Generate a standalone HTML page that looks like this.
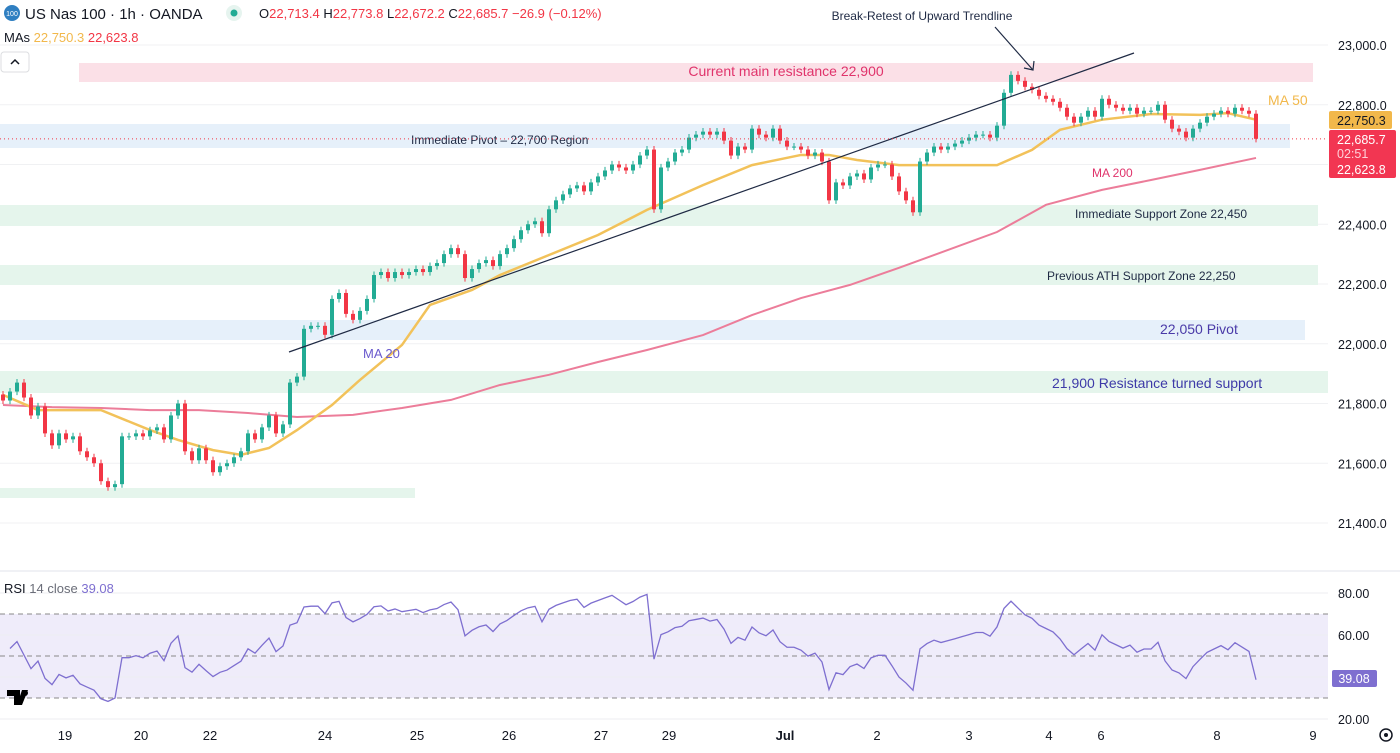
<!DOCTYPE html>
<html><head><meta charset="utf-8"><style>
body{margin:0;background:#fff;font-family:"Liberation Sans",sans-serif;}
svg text{font-family:"Liberation Sans",sans-serif;}
</style></head><body>
<svg id="c" width="1400" height="748" xmlns="http://www.w3.org/2000/svg"></svg>
<script>
const closes=[21810,21840,21870,21820,21760,21790,21700,21660,21700,21680,21690,21640,21620,21600,21540,21520,21530,21690,21690,21700,21690,21710,21720,21680,21760,21800,21640,21610,21650,21610,21570,21590,21600,21620,21640,21700,21680,21720,21760,21700,21730,21870,21890,22050,22060,22060,22030,22150,22170,22100,22080,22110,22150,22230,22240,22220,22240,22230,22240,22250,22240,22260,22270,22300,22320,22300,22220,22250,22270,22280,22260,22300,22320,22350,22380,22400,22410,22370,22450,22480,22500,22520,22530,22510,22540,22560,22580,22600,22590,22580,22600,22630,22650,22450,22590,22610,22640,22650,22690,22700,22710,22700,22710,22680,22630,22660,22650,22720,22700,22690,22720,22680,22660,22660,22650,22630,22640,22610,22480,22540,22530,22560,22570,22550,22590,22600,22600,22560,22510,22480,22440,22610,22640,22660,22650,22660,22670,22680,22690,22700,22700,22690,22730,22840,22900,22880,22860,22850,22830,22820,22810,22790,22760,22740,22760,22780,22760,22820,22800,22790,22780,22790,22770,22780,22780,22800,22750,22720,22710,22690,22720,22740,22760,22770,22780,22770,22790,22780,22770,22686];
const ma50Idx=[0,5,14,21,25,30,34,38,42,47,51,57,61,67,71,78,85,92,100,107,114,118,122,128,135,142,147,151,157,164,171,175,179];
const ma50Val=[21829,21778,21778,21711,21678,21644,21628,21651,21711,21795,21879,21996,22130,22180,22230,22297,22364,22448,22531,22598,22632,22632,22615,22598,22598,22598,22649,22716,22750,22769,22766,22772,22750];
const ma200Idx=[0,7,14,21,28,35,42,50,57,64,71,78,85,92,100,107,114,121,128,135,142,149,157,164,171,179];
const ma200Val=[21795,21788,21785,21778,21778,21768,21755,21762,21785,21812,21862,21896,21939,21979,22029,22096,22153,22197,22254,22314,22374,22465,22515,22548,22582,22622];
const priceTicks=[23000,22800,22400,22200,22000,21800,21600,21400];
const rsiTicks=[80,60,20];
const dayLabels=["19","20","22","24","25","26","27","29","Jul","2","3","4","6","8","9"];
const dayPos=[65,141,210,325,417,509,601,669,785,877,969,1049,1101,1217,1313];

const NS="http://www.w3.org/2000/svg",svg=document.getElementById('c');
function el(t,a,p){const e=document.createElementNS(NS,t);for(const k in a)e.setAttribute(k,a[k]);(p||svg).appendChild(e);return e;}
const py=p=>45+(23000-p)*0.29875;
const cx=i=>3+7*i;
const ry=v=>593+(80-v)*2.1;

priceTicks.concat([22600]).forEach(p=>{el('line',{x1:0,x2:1328,y1:py(p),y2:py(p),stroke:'#f0f1f3'});});
function zone(x1,x2,y1,y2,fill,name){const r=el('rect',{x:x1,y:y1,width:x2-x1,height:y2-y1,fill:fill});}
zone(79,1313,63,82,'#fbe0e7','resistance-zone');
zone(0,1290,124,148,'#e6f0fa','pivot-zone-22700');
zone(0,1318,205,226,'#e5f5ec','support-zone-22450');
zone(0,1318,265,285,'#e5f5ec','ath-support-zone');
zone(0,1305,320,340,'#e6f0fa','pivot-zone-22050');
zone(0,1328,371,393,'#e5f5ec','support-zone-21900');
zone(0,415,488,498,'#e5f5ec','low-support-zone');
function txt(x,y,s,fill,size,anchor,name){const t=el('text',{x:x,y:y,fill:fill,'font-size':size,'text-anchor':anchor||'start'});t.textContent=s;return t;}
txt(786,76,'Current main resistance 22,900','#e0336b',14,'middle','resistance-label');
txt(411,144,'Immediate Pivot – 22,700 Region','#1f2a44',12,'start','pivot-label');
txt(1075,218,'Immediate Support Zone 22,450','#1f2a44',12,'start','support-label');
txt(1047,280,'Previous ATH Support Zone 22,250','#1f2a44',12,'start','ath-label');
txt(1160,334,'22,050 Pivot','#4a3aa8',14,'start','pivot-22050-label');
txt(1052,388,'21,900 Resistance turned support','#3d3aa8',14,'start','support-21900-label');
function poly(idx,val,col,w,name){const pts=idx.map((i,k)=>cx(i)+','+py(val[k])).join(' ');const l=el('polyline',{points:pts,fill:'none',stroke:col,'stroke-width':w});}
poly(ma200Idx,ma200Val,'#ec7d9a',2,'ma200-line');
poly(ma50Idx,ma50Val,'#f2c25a',2.5,'ma50-line');
closes.forEach((c,i)=>{const o=i?closes[i-1]:c+20;const up=c>=o;const col=up?'#22ab94':'#f23645';const x=cx(i);
const hi=Math.max(o,c)+12,lo=Math.min(o,c)-12;
el('line',{x1:x,x2:x,y1:py(hi),y2:py(lo),stroke:col,'stroke-width':1});
const b=el('rect',{x:x-2,y:py(Math.max(o,c)),width:4,height:Math.max(1,py(Math.min(o,c))-py(Math.max(o,c))),fill:col});

});
el('line',{x1:289,y1:352,x2:1134,y2:53,stroke:'#1f2a44','stroke-width':1.2});
el('line',{x1:995,y1:27,x2:1033,y2:70,stroke:'#1f2a44','stroke-width':1.2});
el('polyline',{points:'1024,68 1033,70 1034,61',fill:'none',stroke:'#1f2a44','stroke-width':1.2});
txt(922,20,'Break-Retest of Upward Trendline','#1f2a44',12,'middle','annotation-label');
txt(1268,105,'MA 50','#f2b84b',14,'start','ma50-label');
txt(1092,177,'MA 200','#e0336b',12,'start','ma200-label');
txt(363,358,'MA 20','#6a5acd',13,'start','ma20-label');
el('line',{x1:0,x2:1328,y1:py(22685.7),y2:py(22685.7),stroke:'#f23645','stroke-dasharray':'1 3'});
priceTicks.forEach(p=>txt(1338,py(p)+5,p.toLocaleString('en-US',{minimumFractionDigits:1}),'#131722',12.5,'start','price-tick'));
el('rect',{x:1329,y:111,width:63,height:18,rx:2,fill:'#f2b84b'});
txt(1337,125,'22,750.3','#131722',12.5,'start','ma50-tag');
el('rect',{x:1329,y:130,width:67,height:48,rx:2,fill:'#f23652'});
txt(1337,144,'22,685.7','#fff',12.5,'start','price-tag');
txt(1337,158,'02:51','#ffd0d8',12.5,'start','countdown-tag');
txt(1337,174,'22,623.8','#fff',12.5,'start','ma200-tag');
el('circle',{cx:12,cy:13,r:8,fill:'#2f7fc1'});
txt(12,16,'100','#fff',7,'middle','symbol-logo');
txt(25,19,'US Nas 100 · 1h · OANDA','#131722',15,'start','symbol-title');
el('circle',{cx:234,cy:13,r:8,fill:'#e6f4ef'});el('circle',{cx:234,cy:13,r:3.5,fill:'#22ab94'});
const h=el('text',{x:259,y:18,'font-size':13,fill:'#f23645'});
h.innerHTML='<tspan fill="#131722">O</tspan>22,713.4 <tspan fill="#131722">H</tspan>22,773.8 <tspan fill="#131722">L</tspan>22,672.2 <tspan fill="#131722">C</tspan>22,685.7 −26.9 (−0.12%)';
const m=el('text',{x:4,y:42,'font-size':13,fill:'#131722'});
m.innerHTML='MAs <tspan fill="#f2b84b">22,750.3</tspan> <tspan fill="#f23645">22,623.8</tspan>';
const cb=el('rect',{x:1,y:52,width:28,height:20,rx:3,fill:'#fff',stroke:'#dcdde0'});
el('polyline',{points:'11,64 15,60 19,64',fill:'none',stroke:'#131722','stroke-width':1.5});
el('line',{x1:0,x2:1400,y1:571,y2:571,stroke:'#e0e3eb'});
el('rect',{x:0,y:ry(70),width:1328,height:ry(30)-ry(70),fill:'#efecfa'});
[70,50,30].forEach(v=>el('line',{x1:0,x2:1328,y1:ry(v),y2:ry(v),stroke:'#888','stroke-dasharray':'5 4'}));
[80,60,40,20].forEach(v=>el('line',{x1:0,x2:1328,y1:ry(v),y2:ry(v),stroke:'#eeeef2'}));
const rsi=[];let ag=15,al=15;
for(let i=1;i<closes.length;i++){const d=closes[i]-closes[i-1];const g=Math.max(d,0),l=Math.max(-d,0);
ag=(ag*13+g)/14;al=(al*13+l)/14;
rsi.push([i,100-100/(1+ag/al)]);}
const rp=rsi.map(([i,v])=>cx(i)+','+ry(Math.max(22,Math.min(84,v)))).join(' ');
const rl=el('polyline',{points:rp,fill:'none',stroke:'#7e6fd0','stroke-width':1.3});


rsiTicks.forEach(v=>txt(1338,ry(v)+5,v.toFixed(2),'#131722',12.5,'start','rsi-tick'));
el('rect',{x:1332,y:670,width:45,height:17,rx:2,fill:'#7e6fd0'});
txt(1354,683,'39.08','#fff',12.5,'middle','rsi-tag');
const rt=el('text',{x:4,y:593,'font-size':13,fill:'#131722'});
rt.innerHTML='RSI <tspan fill="#6a6d78">14 close</tspan> <tspan fill="#7e6fd0">39.08</tspan>';
el('path',{d:'M7 690h13v15h-6v-9h-7zM22 690h6l-6 15h-5z',fill:'#000'});
el('circle',{cx:25,cy:693,r:3,fill:'#000'});
dayLabels.forEach((d,k)=>{const t=txt(dayPos[k],740,d,'#131722',13,'middle','time-tick');if(d==='Jul')t.setAttribute('font-weight','bold');});
const g=el('circle',{cx:1386,cy:735,r:6,fill:'none',stroke:'#131722','stroke-width':1.5});
el('circle',{cx:1386,cy:735,r:2,fill:'#131722'});
</script>
</body></html>
